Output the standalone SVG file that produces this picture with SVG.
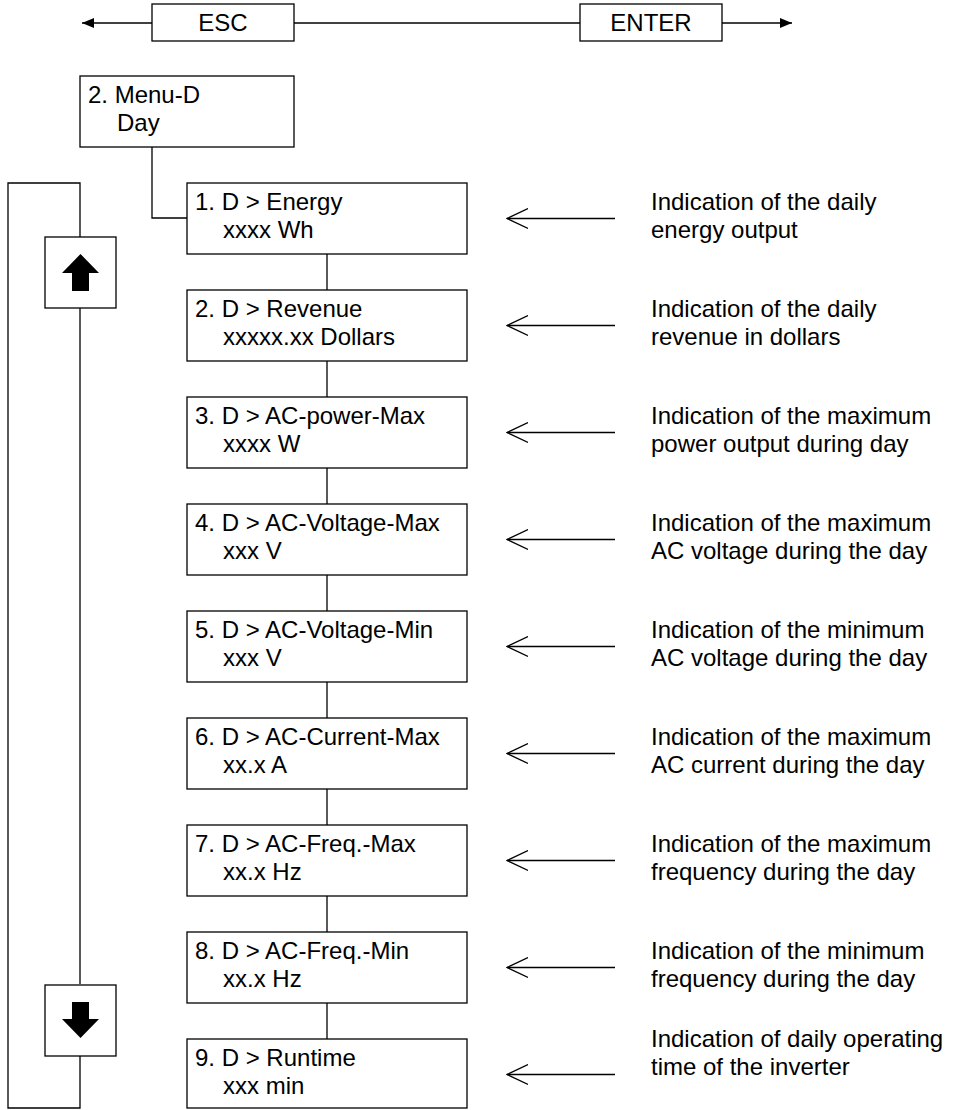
<svg xmlns="http://www.w3.org/2000/svg" width="959" height="1110" viewBox="0 0 959 1110">
<defs>
<style>
text{font-family:"Liberation Sans",Arial,sans-serif;font-size:24px;fill:#000}
.b{fill:#fff;stroke:#000;stroke-width:1.3}
.l{fill:none;stroke:#000;stroke-width:1.3}
.c{text-anchor:middle}
</style>
<marker id="fa" markerWidth="12" markerHeight="10" refX="12" refY="5" orient="auto" markerUnits="userSpaceOnUse"><path d="M0,0 L12,5 L0,10 Z" fill="#000"/></marker>
<marker id="oa" markerWidth="22" markerHeight="22" refX="21" refY="11" orient="auto" markerUnits="userSpaceOnUse"><path d="M0,1 L21,11 L0,21" fill="none" stroke="#000" stroke-width="1.2"/></marker>
</defs>
<rect width="959" height="1110" fill="#fff"/>
<g id="connectors">
<line class="l" x1="152" y1="23" x2="82" y2="23" marker-end="url(#fa)"/>
<line class="l" x1="294" y1="23" x2="580" y2="23"/>
<line class="l" x1="722" y1="23" x2="792" y2="23" marker-end="url(#fa)"/>
<polyline class="l" points="152,147 152,218 187,218"/>
<polyline class="l" points="80,237 80,183 8,183 8,1108 80,1108 80,1056"/>
<line class="l" x1="80" y1="308" x2="80" y2="984"/>
<line class="l" x1="327" y1="254" x2="327" y2="290"/>
<line class="l" x1="327" y1="361" x2="327" y2="397"/>
<line class="l" x1="327" y1="468" x2="327" y2="504"/>
<line class="l" x1="327" y1="575" x2="327" y2="611"/>
<line class="l" x1="327" y1="682" x2="327" y2="718"/>
<line class="l" x1="327" y1="789" x2="327" y2="825"/>
<line class="l" x1="327" y1="896" x2="327" y2="932"/>
<line class="l" x1="327" y1="1003" x2="327" y2="1039"/>
<line class="l" x1="615" y1="218.5" x2="507" y2="218.5" marker-end="url(#oa)"/>
<line class="l" x1="615" y1="325.5" x2="507" y2="325.5" marker-end="url(#oa)"/>
<line class="l" x1="615" y1="432.5" x2="507" y2="432.5" marker-end="url(#oa)"/>
<line class="l" x1="615" y1="539.5" x2="507" y2="539.5" marker-end="url(#oa)"/>
<line class="l" x1="615" y1="646.5" x2="507" y2="646.5" marker-end="url(#oa)"/>
<line class="l" x1="615" y1="753.5" x2="507" y2="753.5" marker-end="url(#oa)"/>
<line class="l" x1="615" y1="860.5" x2="507" y2="860.5" marker-end="url(#oa)"/>
<line class="l" x1="615" y1="967.5" x2="507" y2="967.5" marker-end="url(#oa)"/>
<line class="l" x1="615" y1="1074.5" x2="507" y2="1074.5" marker-end="url(#oa)"/>
</g>
<g id="esc"><rect class="b" x="152" y="4" width="142" height="37"/><text class="c" x="223" y="31">ESC</text></g>
<g id="enter"><rect class="b" x="580" y="4" width="142" height="37"/><text class="c" x="651" y="31">ENTER</text></g>
<g id="menu"><rect class="b" x="80" y="76" width="214" height="71"/><text x="88" y="103">2. Menu-D</text><text x="117" y="131">Day</text></g>
<g id="up"><rect class="b" x="45" y="237" width="71" height="71"/><path d="M80.5,254 L99,273 L89,273 L89,291 L72,291 L72,273 L62,273 Z" fill="#000"/></g>
<g id="down"><rect class="b" x="45" y="985" width="71" height="71"/><path d="M72,1002 L89,1002 L89,1019 L99,1019 L80.5,1038 L62,1019 L72,1019 Z" fill="#000"/></g>
<g id="n1"><rect class="b" x="187" y="183" width="280" height="71"/><text x="195" y="210">1. D &gt; Energy</text><text x="223" y="238">xxxx Wh</text></g>
<g id="n2"><rect class="b" x="187" y="290" width="280" height="71"/><text x="195" y="317">2. D &gt; Revenue</text><text x="223" y="345">xxxxx.xx Dollars</text></g>
<g id="n3"><rect class="b" x="187" y="397" width="280" height="71"/><text x="195" y="424">3. D &gt; AC-power-Max</text><text x="223" y="452">xxxx W</text></g>
<g id="n4"><rect class="b" x="187" y="504" width="280" height="71"/><text x="195" y="531">4. D &gt; AC-Voltage-Max</text><text x="223" y="559">xxx V</text></g>
<g id="n5"><rect class="b" x="187" y="611" width="280" height="71"/><text x="195" y="638">5. D &gt; AC-Voltage-Min</text><text x="223" y="666">xxx V</text></g>
<g id="n6"><rect class="b" x="187" y="718" width="280" height="71"/><text x="195" y="745">6. D &gt; AC-Current-Max</text><text x="223" y="773">xx.x A</text></g>
<g id="n7"><rect class="b" x="187" y="825" width="280" height="71"/><text x="195" y="852">7. D &gt; AC-Freq.-Max</text><text x="223" y="880">xx.x Hz</text></g>
<g id="n8"><rect class="b" x="187" y="932" width="280" height="71"/><text x="195" y="959">8. D &gt; AC-Freq.-Min</text><text x="223" y="987">xx.x Hz</text></g>
<g id="n9"><rect class="b" x="187" y="1039" width="280" height="69"/><text x="195" y="1066">9. D &gt; Runtime</text><text x="223" y="1094">xxx min</text></g>
<g id="d1"><text x="651" y="210">Indication of the daily</text><text x="651" y="238">energy output</text></g>
<g id="d2"><text x="651" y="317">Indication of the daily</text><text x="651" y="345">revenue in dollars</text></g>
<g id="d3"><text x="651" y="424">Indication of the maximum</text><text x="651" y="452">power output during day</text></g>
<g id="d4"><text x="651" y="531">Indication of the maximum</text><text x="651" y="559">AC voltage during the day</text></g>
<g id="d5"><text x="651" y="638">Indication of the minimum</text><text x="651" y="666">AC voltage during the day</text></g>
<g id="d6"><text x="651" y="745">Indication of the maximum</text><text x="651" y="773">AC current during the day</text></g>
<g id="d7"><text x="651" y="852">Indication of the maximum</text><text x="651" y="880">frequency during the day</text></g>
<g id="d8"><text x="651" y="959">Indication of the minimum</text><text x="651" y="987">frequency during the day</text></g>
<g id="d9"><text x="651" y="1047">Indication of daily operating</text><text x="651" y="1075">time of the inverter</text></g>
</svg>
